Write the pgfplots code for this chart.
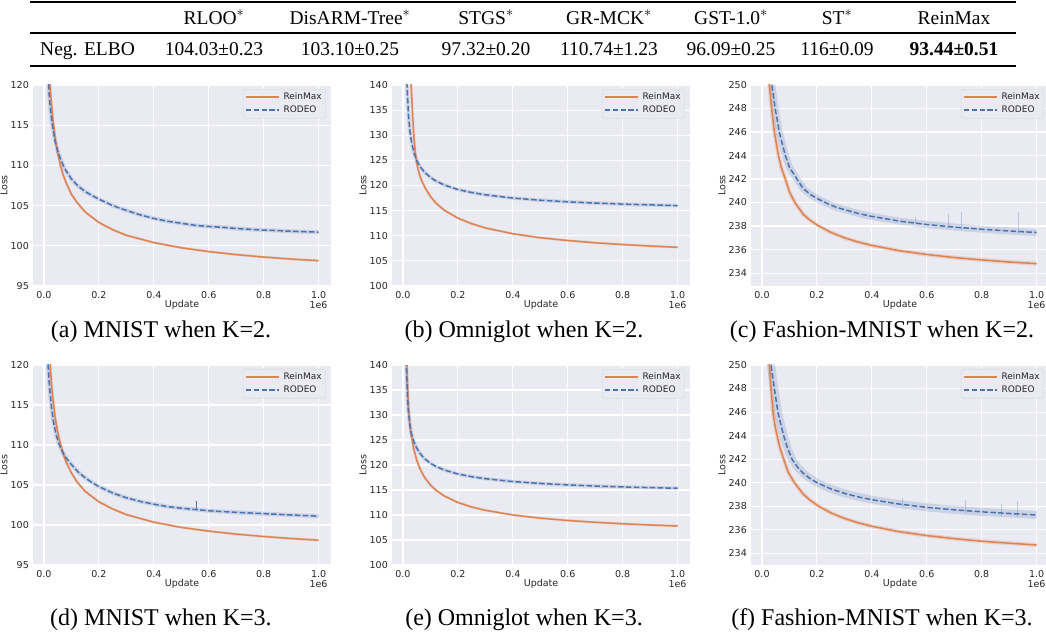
\documentclass[border=0pt]{standalone}
\usepackage{pgfplots}
\pgfplotsset{compat=1.18}
\usepackage{pgfplotstable}
\usepackage{fontspec}
\setmainfont{Liberation Serif}
\newfontfamily\dejavu{DejaVu Sans}
\definecolor{bgc}{HTML}{EAEAF2}
\definecolor{orc}{HTML}{DD8452}
\definecolor{blc}{HTML}{4C72B0}
\definecolor{txt}{HTML}{262626}
\definecolor{legc}{HTML}{D2D2DA}
\newcommand\tickfont{\dejavu\fontsize{9.5bp}{11bp}\selectfont}
\newcommand\legfont{\dejavu\fontsize{9bp}{11bp}\selectfont}
\newcommand\capfont{\fontsize{24bp}{28bp}\selectfont}
\newcommand\tabfont{\fontsize{19.5bp}{23bp}\selectfont}

% ---------- (a) MNIST K=2 ----------
\pgfplotstableread{
x y
0.015 125.6
0.020 121.4
0.025 118.6
0.030 116.5
0.040 113.5
0.050 111.5
0.060 110.0
0.070 108.8
0.080 107.9
0.100 106.4
0.120 105.4
0.150 104.2
0.200 102.9
0.250 102.0
0.300 101.3
0.400 100.4
0.500 99.75
0.600 99.28
0.700 98.9
0.800 98.6
0.900 98.35
1.000 98.15
}\daA
\pgfplotstableread{
x y
0.010 126
0.015 121
0.020 118.3
0.025 116.5
0.030 115.1
0.040 113.1
0.050 111.8
0.060 110.8
0.070 110.0
0.080 109.35
0.100 108.3
0.125 107.4
0.150 106.75
0.175 106.25
0.200 105.8
0.250 105.0
0.300 104.4
0.350 103.85
0.400 103.4
0.450 103.05
0.500 102.8
0.550 102.55
0.600 102.4
0.650 102.3
0.700 102.15
0.750 102.05
0.800 101.95
0.850 101.9
0.900 101.8
0.950 101.75
1.000 101.7
}\dbA
% ---------- (b) Omniglot K=2 ----------
\pgfplotstableread{
x y
0.020 160
0.025 145
0.030 139.5
0.035 134
0.040 129.5
0.045 126.5
0.050 124.4
0.060 122.15
0.070 120.7
0.080 119.6
0.100 117.8
0.120 116.5
0.150 115.1
0.200 113.5
0.250 112.4
0.300 111.55
0.400 110.4
0.500 109.6
0.600 109.05
0.700 108.6
0.800 108.25
0.900 107.95
1.000 107.7
}\daB
\pgfplotstableread{
x y
0.011 150
0.0145 140
0.020 134
0.025 131
0.030 129
0.040 126.5
0.050 125.0
0.060 124.0
0.070 123.2
0.080 122.6
0.100 121.6
0.120 120.9
0.150 120.1
0.200 119.2
0.250 118.6
0.300 118.15
0.400 117.5
0.500 117.07
0.600 116.75
0.700 116.5
0.800 116.3
0.900 116.14
1.000 116.0
}\dbB
% ---------- (c) Fashion-MNIST K=2 ----------
\pgfplotstableread{
x y
0.020 254
0.027 250
0.035 248
0.045 246
0.060 244
0.070 243.0
0.085 242
0.100 240.9
0.120 240.0
0.150 239.0
0.175 238.5
0.200 238.1
0.250 237.47
0.300 237.0
0.350 236.64
0.400 236.35
0.500 235.9
0.600 235.58
0.700 235.32
0.800 235.12
0.900 234.94
1.000 234.8
}\daC
\pgfplotstableread{
x y
0.030 254
0.036 250
0.048 248
0.063 246
0.075 244.9
0.085 244
0.100 243.0
0.127 242
0.150 241.2
0.175 240.7
0.200 240.35
0.230 240.0
0.270 239.6
0.300 239.4
0.350 239.07
0.400 238.82
0.500 238.42
0.600 238.13
0.700 237.91
0.800 237.73
0.900 237.58
1.000 237.45
}\dbC
% ---------- (d) MNIST K=3 ----------
\pgfplotstableread{
x y
0.015 125.9
0.024 119.3
0.030 116.6
0.040 113.6
0.050 111.6
0.060 110.1
0.070 108.9
0.080 107.9
0.100 106.5
0.120 105.4
0.150 104.2
0.200 102.9
0.250 102.0
0.300 101.3
0.400 100.35
0.500 99.7
0.600 99.23
0.700 98.86
0.800 98.56
0.900 98.31
1.000 98.1
}\daD
\pgfplotstableread{
x y
0.010 126
0.015 120
0.020 117.3
0.027 114.8
0.035 112.8
0.045 111.2
0.055 110.1
0.065 109.3
0.080 108.4
0.100 107.55
0.125 106.6
0.150 105.9
0.175 105.3
0.200 104.8
0.250 104.0
0.300 103.4
0.350 102.95
0.400 102.6
0.450 102.3
0.500 102.1
0.600 101.78
0.700 101.58
0.800 101.42
0.900 101.25
1.000 101.1
}\dbD
% ---------- (e) Omniglot K=3 ----------
\pgfplotstableread{
x y
0.010 152
0.015 138
0.020 131.5
0.025 128.0
0.030 126.0
0.040 123.0
0.050 121.0
0.060 119.5
0.070 118.36
0.080 117.43
0.100 116.0
0.120 114.97
0.150 113.81
0.200 112.5
0.250 111.6
0.300 110.94
0.400 110.0
0.500 109.37
0.600 108.9
0.700 108.54
0.800 108.25
0.900 108.0
1.000 107.8
}\daE
\pgfplotstableread{
x y
0.008 152
0.012 140
0.016 134
0.020 130.5
0.025 128.2
0.030 126.4
0.040 124.6
0.050 123.4
0.060 122.47
0.070 121.77
0.080 121.2
0.100 120.34
0.120 119.71
0.150 119.0
0.200 118.2
0.250 117.66
0.300 117.26
0.400 116.69
0.500 116.31
0.600 116.02
0.700 115.8
0.800 115.62
0.900 115.47
1.000 115.35
}\dbE
% ---------- (f) Fashion-MNIST K=3 ----------
\pgfplotstableread{
x y
0.020 254
0.027 250
0.033 248
0.040 246
0.047 244.9
0.055 244
0.065 243.0
0.079 242
0.095 240.9
0.118 240
0.150 239.03
0.175 238.51
0.206 238
0.250 237.44
0.300 236.96
0.350 236.59
0.400 236.29
0.500 235.83
0.600 235.5
0.700 235.24
0.800 235.02
0.900 234.85
1.000 234.7
}\daF
\pgfplotstableread{
x y
0.028 254
0.033 250
0.045 248
0.058 246
0.068 245
0.079 244
0.092 243
0.109 242
0.130 241.3
0.150 240.8
0.175 240.35
0.200 240.0
0.250 239.48
0.300 239.09
0.350 238.79
0.400 238.55
0.500 238.18
0.600 237.9
0.700 237.69
0.800 237.52
0.900 237.38
1.000 237.25
}\dbF

\pgfplotsset{
  sns/.style={
    width=298bp, scale only axis,
    xmin=-0.04, xmax=1.045,
    axis background/.style={fill=bgc},
    axis line style={draw=none},
    grid=major, major grid style={white, line width=1.1bp},
    major tick length=0pt,
    xtick={0,0.2,0.4,0.6,0.8,1.0},
    xticklabels={0.0,0.2,0.4,0.6,0.8,1.0},
    tick label style={font=\tickfont, text=txt},
    xticklabel style={inner sep=0pt, yshift=-5bp},
    yticklabel style={inner sep=0pt, xshift=-4bp},
    xlabel={Update}, ylabel={Loss},
    label style={font=\tickfont, text=txt},
    xlabel style={at={(axis description cs:0.5,-0.095)}, anchor=center},
    ylabel style={at={(axis description cs:-0.097,0.5)}, anchor=center},
    clip mode=individual,
    legend cell align=left,
    legend image code/.code={\draw[##1] (0bp,0bp) -- (33bp,0bp); \path (35bp,0bp);},
    legend style={at={(rel axis cs:0.983,0.98)}, anchor=north east,
      fill=bgc, draw=legc, rounded corners=2.5bp, font=\legfont, text=txt,
      inner xsep=2bp, inner ysep=1.5bp, row sep=0bp,
      nodes={inner sep=2bp, text height=7bp, text depth=2bp}},
  },
  rein/.style={draw=orc, line width=1.5bp, line join=round},
  rodeo/.style={draw=blc, line width=1.5bp, line join=round, dash pattern=on 5.5bp off 2.4bp},
  bandO/.style={draw=orc, draw opacity=0.25, line width=#1, line join=round, forget plot},
  bandB/.style={draw=blc, draw opacity=0.2, line width=#1, line join=round, forget plot},
  spike/.style={draw=blc, draw opacity=0.3, line width=0.8bp, forget plot},
}
\newcommand\oneesix{\node[font=\tickfont, text=txt, anchor=east] at ([yshift=-19bp]rel axis cs:1,0) {1e6};}

\begin{document}
\begin{tikzpicture}
\useasboundingbox (0,0) rectangle (1046bp,632bp);

% ---------------- table ----------------
\draw[line width=1.9bp] (30bp,630bp) -- (1016bp,630bp);
\draw[line width=1.2bp] (30bp,599bp) -- (1016bp,599bp);
\draw[line width=1.9bp] (30bp,566bp) -- (1016bp,566bp);
\begin{scope}[every node/.style={font=\tabfont, anchor=base, inner sep=0pt}]
\node at (214bp,607.5bp) {RLOO$^{*}$};
\node at (350bp,607.5bp) {DisARM-Tree$^{*}$};
\node at (486bp,607.5bp) {STGS$^{*}$};
\node at (609bp,607.5bp) {GR-MCK$^{*}$};
\node at (731bp,607.5bp) {GST-1.0$^{*}$};
\node at (837bp,607.5bp) {ST$^{*}$};
\node at (954bp,607.5bp) {ReinMax};
\node[anchor=base west] at (40bp,576.5bp) {Neg. ELBO};
\node at (214bp,576.5bp) {104.03±0.23};
\node at (350bp,576.5bp) {103.10±0.25};
\node at (486bp,576.5bp) {97.32±0.20};
\node at (609bp,576.5bp) {110.74±1.23};
\node at (731bp,576.5bp) {96.09±0.25};
\node at (837bp,576.5bp) {116±0.09};
\node at (954bp,576.5bp) {\textbf{93.44±0.51}};
\end{scope}

% ---------------- (a) ----------------
\begin{axis}[sns, at={(33bp,346bp)}, anchor=south west, height=201bp,
  ymin=95, ymax=120, ytick={95,100,105,110,115,120}, yticklabels={95,100,105,110,115,120}]
\addplot[bandB=4bp] table {\dbA};
\addplot[bandO=2.5bp] table {\daA};
\addplot[rein] table {\daA}; \addlegendentry{ReinMax}
\addplot[rodeo] table {\dbA}; \addlegendentry{RODEO}
\oneesix
\end{axis}

% ---------------- (b) ----------------
\begin{axis}[sns, at={(392bp,346bp)}, anchor=south west, height=201bp,
  ymin=100, ymax=140, ytick={100,105,110,115,120,125,130,135,140}, yticklabels={100,105,110,115,120,125,130,135,140}]
\addplot[bandB=3.5bp] table {\dbB};
\addplot[bandO=2.5bp] table {\daB};
\addplot[rein] table {\daB}; \addlegendentry{ReinMax}
\addplot[rodeo] table {\dbB}; \addlegendentry{RODEO}
\oneesix
\end{axis}

% ---------------- (c) ----------------
\begin{axis}[sns, at={(751bp,346bp)}, anchor=south west, height=201bp,
  ymin=232.9, ymax=250, ytick={234,236,238,240,242,244,246,248,250}, yticklabels={234,236,238,240,242,244,246,248,250}]
\addplot[bandB=7bp] table {\dbC};
\addplot[bandO=4bp] table {\daC};
\addplot[spike] coordinates {(0.680,237.8) (0.680,239.0)};
\addplot[spike] coordinates {(0.725,237.7) (0.725,239.2)};
\addplot[spike] coordinates {(0.935,237.4) (0.935,239.2)};
\addplot[spike] coordinates {(0.560,238.2) (0.560,238.8)};
\addplot[rein] table {\daC}; \addlegendentry{ReinMax}
\addplot[rodeo] table {\dbC}; \addlegendentry{RODEO}
\oneesix
\end{axis}

% ---------------- (d) ----------------
\begin{axis}[sns, at={(33bp,67bp)}, anchor=south west, height=200bp,
  ymin=95, ymax=120, ytick={95,100,105,110,115,120}, yticklabels={95,100,105,110,115,120}]
\addplot[bandB=4bp] table {\dbD};
\addplot[bandO=2.5bp] table {\daD};
\addplot[draw=blc, line width=1bp, forget plot] coordinates {(0.556,101.85) (0.556,103.0)};
\addplot[rein] table {\daD}; \addlegendentry{ReinMax}
\addplot[rodeo] table {\dbD}; \addlegendentry{RODEO}
\oneesix
\end{axis}

% ---------------- (e) ----------------
\begin{axis}[sns, at={(392bp,67bp)}, anchor=south west, height=200bp,
  ymin=100, ymax=140, ytick={100,105,110,115,120,125,130,135,140}, yticklabels={100,105,110,115,120,125,130,135,140}]
\addplot[bandB=3.5bp] table {\dbE};
\addplot[bandO=2.5bp] table {\daE};
\addplot[rein] table {\daE}; \addlegendentry{ReinMax}
\addplot[rodeo] table {\dbE}; \addlegendentry{RODEO}
\oneesix
\end{axis}

% ---------------- (f) ----------------
\begin{axis}[sns, at={(751bp,67bp)}, anchor=south west, height=200bp,
  ymin=233.0, ymax=250, ytick={234,236,238,240,242,244,246,248,250}, yticklabels={234,236,238,240,242,244,246,248,250}]
\addplot[bandB=8bp] table {\dbF};
\addplot[bandO=4bp] table {\daF};
\addplot[spike] coordinates {(0.510,237.9) (0.510,238.7)};
\addplot[spike] coordinates {(0.740,237.4) (0.740,238.5)};
\addplot[spike] coordinates {(0.930,237.1) (0.930,238.4)};
\addplot[spike] coordinates {(0.870,237.2) (0.870,238.2)};
\addplot[rein] table {\daF}; \addlegendentry{ReinMax}
\addplot[rodeo] table {\dbF}; \addlegendentry{RODEO}
\oneesix
\end{axis}

% ---------------- captions ----------------
\begin{scope}[every node/.style={font=\capfont, anchor=base, inner sep=0pt}]
\node at (161bp,294bp) {(a) MNIST when K=2.};
\node at (524bp,294bp) {(b) Omniglot when K=2.};
\node at (882bp,294bp) {(c) Fashion-MNIST when K=2.};
\node at (161bp,7bp) {(d) MNIST when K=3.};
\node at (524bp,7bp) {(e) Omniglot when K=3.};
\node at (882bp,7bp) {(f) Fashion-MNIST when K=3.};
\end{scope}
\end{tikzpicture}
\end{document}
